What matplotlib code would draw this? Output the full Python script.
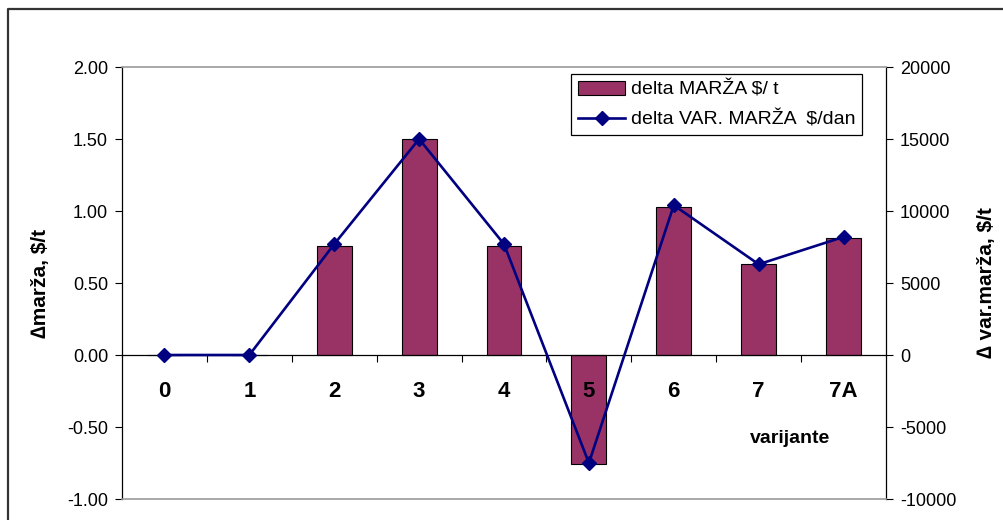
import matplotlib
matplotlib.use("Agg")
import matplotlib.pyplot as plt
from matplotlib.lines import Line2D
from matplotlib.patches import Patch
from matplotlib.ticker import FixedLocator

plt.rcParams["font.family"] = ["Liberation Sans", "DejaVu Sans"]
plt.rcParams["axes.unicode_minus"] = False

# Variants and the two deltas per variant
varijante = ["0", "1", "2", "3", "4", "5", "6", "7", "7A"]
delta_marza = [0.0, 0.0, 0.76, 1.50, 0.76, -0.76, 1.03, 0.63, 0.81]          # $/t
delta_var_marza = [0, 0, 7700, 15000, 7700, -7500, 10400, 6300, 8200]       # $/dan

BAR_COLOR = "#993366"
LINE_COLOR = "#000080"

fig = plt.figure(figsize=(10.04, 5.20), dpi=100)
ax = fig.add_axes([122 / 1004, 1 - 499 / 520, (886 - 122) / 1004, (499 - 67) / 520])
ax.set_axisbelow(False)  # category labels stay on top of the negative bar

x = list(range(len(varijante)))
ax.bar(x, delta_marza, width=0.41, color=BAR_COLOR, edgecolor="black",
       linewidth=0.8, zorder=2)

ax.set_xlim(-0.5, len(varijante) - 0.5)
ax.set_ylim(-1.0, 2.0)
ax.set_yticks([-1.0, -0.5, 0.0, 0.5, 1.0, 1.5, 2.0])
ax.set_yticklabels([f"{v:.2f}" for v in ax.get_yticks()])
ax.tick_params(axis="y", direction="out", length=5, width=0.8,
               labelsize=13, pad=5)

# category axis sits on the zero line
ax.spines["bottom"].set_position(("data", 0))
ax.spines["bottom"].set_linewidth(0.9)
ax.spines["top"].set_visible(False)
ax.spines["right"].set_visible(False)
ax.spines["left"].set_linewidth(0.9)
ax.set_xticks(x)
ax.set_xticklabels(varijante, fontsize=16, fontweight="bold")
ax.xaxis.set_minor_locator(FixedLocator([i + 0.5 for i in x[:-1]]))
ax.tick_params(axis="x", which="major", length=0, pad=19)
ax.tick_params(axis="x", which="minor", direction="out", length=5, width=0.8)

ax.set_ylabel("\u2206mar\u017ea, $/t", fontsize=15, fontweight="bold")
ax.yaxis.set_label_coords(-0.094, 0.5)
ax.text(7.37, -0.58, "varijante", ha="center", va="center",
        fontsize=14, fontweight="bold")

ax2 = ax.twinx()
ax2.plot(x, delta_var_marza, color=LINE_COLOR, linewidth=1.9, marker="D",
         markersize=7, markerfacecolor=LINE_COLOR, markeredgecolor=LINE_COLOR,
         zorder=3)
ax2.set_ylim(-10000, 20000)
ax2.set_yticks(range(-10000, 20001, 5000))
ax2.tick_params(axis="y", direction="out", length=5, width=0.8,
                labelsize=13, pad=5)
ax2.spines["left"].set_visible(False)
ax2.spines["right"].set_linewidth(0.9)
for side in ("top", "bottom"):
    ax2.spines[side].set_color("#999999")
    ax2.spines[side].set_linewidth(1.2)
ax2.set_ylabel("\u2206 var.mar\u017ea, $/t", fontsize=15, fontweight="bold")
ax2.yaxis.set_label_coords(1.119, 0.5)

handles = [
    Patch(facecolor=BAR_COLOR, edgecolor="black", linewidth=0.8),
    Line2D([], [], color=LINE_COLOR, linewidth=1.9, marker="D", markersize=7),
]
labels = ["delta MAR\u017dA $/ t", "delta VAR. MAR\u017dA  $/dan"]
leg = fig.legend(handles, labels, loc="upper right",
                 bbox_to_anchor=(862 / 1004, 1 - 74 / 520), borderaxespad=0,
                 fontsize=14, frameon=True, fancybox=False, framealpha=1,
                 edgecolor="black", handlelength=2.4, handletextpad=0.3,
                 labelspacing=0.6, borderpad=0.35)
leg.get_frame().set_linewidth(0.9)

# outer chart frame (top and left edges)
fig.add_artist(Line2D([8 / 1004, 8 / 1004, 1.0], [0.0, 1 - 9 / 520, 1 - 9 / 520],
                      transform=fig.transFigure, color="#333333", linewidth=1.6))

fig.savefig("out.png", dpi=100)
